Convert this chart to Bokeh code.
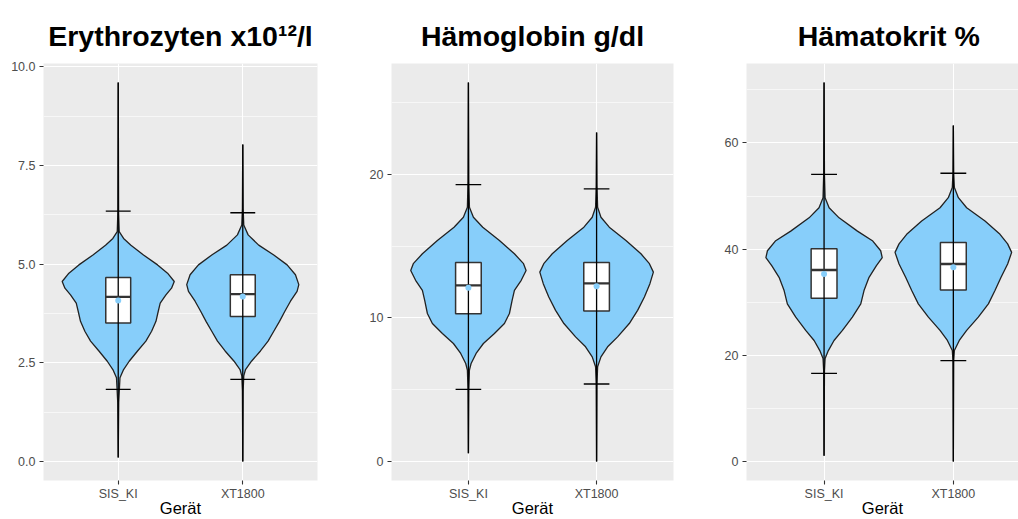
from bokeh.plotting import figure
from bokeh.layouts import row, column
from bokeh.models import FixedTicker, Range1d, NumeralTickFormatter, BasicTickFormatter
from bokeh.core.properties import value
from bokeh.embed import file_html
from bokeh.resources import INLINE

categories = ["SIS_KI", "XT1800"]
x_title = "Gerät"

# ---------------- Erythrozyten x10^12/l ----------------
ery_title = "Erythrozyten x10¹²/l"
ery_min = [0.10, 0.00]
ery_max = [9.60, 8.03]
ery_cap_low = [1.83, 2.08]
ery_cap_high = [6.34, 6.30]
ery_q1 = [3.51, 3.67]
ery_median = [4.17, 4.24]
ery_q3 = [4.66, 4.73]
ery_mean = [4.08, 4.18]
ery_sis_y = [0.10, 1.50, 2.12, 2.33, 2.54, 2.80, 3.05, 3.30, 3.55, 3.80, 4.01, 4.22, 4.39, 4.56, 4.77, 4.98, 5.23, 5.48, 5.65, 5.82, 6.30, 9.60]
ery_sis_w = [0.0, 0.004, 0.014, 0.043, 0.088, 0.155, 0.222, 0.268, 0.303, 0.321, 0.337, 0.383, 0.428, 0.450, 0.396, 0.316, 0.203, 0.102, 0.043, 0.008, 0.003, 0.0]
ery_xt_y = [0.00, 1.80, 2.17, 2.33, 2.54, 2.80, 3.05, 3.30, 3.55, 3.80, 4.06, 4.31, 4.48, 4.73, 4.98, 5.23, 5.48, 5.74, 5.99, 6.40, 8.03]
ery_xt_w = [0.0, 0.003, 0.008, 0.022, 0.070, 0.142, 0.203, 0.249, 0.295, 0.337, 0.383, 0.436, 0.450, 0.423, 0.356, 0.249, 0.128, 0.043, 0.008, 0.003, 0.0]
ery_ticks = [0, 2.5, 5, 7.5, 10]
ery_minor = [1.25, 3.75, 6.25, 8.75]

# ---------------- Hämoglobin g/dl ----------------
hb_title = "Hämoglobin g/dl"
hb_min = [0.58, 0.00]
hb_max = [26.4, 22.92]
hb_cap_low = [5.03, 5.40]
hb_cap_high = [19.28, 18.99]
hb_q1 = [10.30, 10.49]
hb_median = [12.27, 12.41]
hb_q3 = [13.87, 13.87]
hb_mean = [12.11, 12.20]
hb_sis_y = [0.58, 5.0, 6.37, 6.83, 7.53, 8.22, 8.92, 9.61, 10.31, 11.23, 11.92, 12.62, 13.31, 13.78, 14.47, 15.40, 16.32, 17.01, 17.71, 19.5, 26.4]
hb_sis_w = [0.0, 0.003, 0.008, 0.021, 0.060, 0.117, 0.203, 0.281, 0.320, 0.341, 0.359, 0.412, 0.450, 0.430, 0.359, 0.242, 0.112, 0.039, 0.008, 0.003, 0.0]
hb_xt_y = [0.0, 5.4, 6.60, 7.29, 7.99, 8.68, 9.61, 10.53, 11.46, 12.39, 13.19, 13.78, 14.47, 15.40, 16.32, 17.01, 17.71, 19.2, 22.92]
hb_xt_w = [0.0, 0.003, 0.008, 0.034, 0.086, 0.164, 0.255, 0.320, 0.373, 0.416, 0.443, 0.412, 0.346, 0.229, 0.099, 0.034, 0.008, 0.003, 0.0]
hb_ticks = [0, 10, 20]
hb_minor = [5, 15, 25]

# ---------------- Hämatokrit % ----------------
hk_title = "Hämatokrit %"
hk_min = [1.07, 0.00]
hk_max = [71.4, 63.3]
hk_cap_low = [16.6, 19.0]
hk_cap_high = [54.1, 54.3]
hk_q1 = [30.75, 32.3]
hk_median = [36.07, 37.2]
hk_q3 = [40.1, 41.25]
hk_mean = [35.3, 36.6]
hk_sis_y = [1.07, 17.0, 19.4, 20.9, 22.8, 24.7, 27.2, 29.7, 32.2, 34.7, 36.9, 38.4, 39.7, 41.6, 43.4, 45.9, 47.8, 49.7, 54.0, 71.4]
hk_sis_w = [0.0, 0.003, 0.008, 0.033, 0.077, 0.142, 0.219, 0.284, 0.309, 0.348, 0.405, 0.450, 0.438, 0.374, 0.258, 0.116, 0.039, 0.008, 0.003, 0.0]
hk_xt_y = [0.0, 19.0, 20.9, 22.8, 24.7, 27.2, 29.7, 32.2, 34.7, 37.2, 39.4, 41.0, 42.8, 45.3, 47.8, 49.7, 51.6, 54.3, 63.3]
hk_xt_w = [0.0, 0.003, 0.008, 0.046, 0.103, 0.193, 0.271, 0.322, 0.369, 0.420, 0.451, 0.420, 0.361, 0.245, 0.103, 0.039, 0.008, 0.003, 0.0]
hk_ticks = [0, 20, 40, 60]
hk_minor = [10, 30, 50, 70]

VIOLIN_FILL = "#87CEFA"
FONT = "Liberation Sans"
TITLE_H = 55
PLOT_H = 464
TOP = 8
BOTTOM = 39


def make_panel(title, mins, maxs, cap_low, cap_high, q1, med, q3, mean,
               violins, yticks, yminor, yrange, xend, width, bl, br, fmt):
    xr = Range1d(0.4, xend)

    # --- title strip (same frame geometry as the panel below) ---
    t = figure(width=width, height=TITLE_H, output_backend="svg", toolbar_location=None,
               x_range=xr, y_range=Range1d(TITLE_H, 0),
               x_axis_type=None, y_axis_type=None,
               min_border_left=bl, min_border_right=br, min_border_top=0, min_border_bottom=0)
    t.outline_line_color = None
    t.background_fill_color = "white"
    t.border_fill_color = "white"
    t.xgrid.visible = False
    t.ygrid.visible = False
    t.text(x=[1.5], y=[35.5], text=[title], text_align="center", text_baseline="alphabetic",
           text_font=value(FONT), text_font_size="28.5px", text_font_style="bold",
           text_color="black")

    # --- main panel ---
    p = figure(width=width, height=PLOT_H, output_backend="svg", toolbar_location=None,
               x_range=xr, y_range=Range1d(*yrange),
               min_border_left=bl, min_border_right=br, min_border_top=TOP,
               min_border_bottom=BOTTOM)
    p.background_fill_color = "#EBEBEB"
    p.border_fill_color = "white"
    p.outline_line_color = None

    pos = [i + 1 for i in range(len(categories))]

    for i, (vy, vw) in enumerate(violins):
        xs = [pos[i] + w for w in vw] + [pos[i] - w for w in reversed(vw)]
        ys = list(vy) + list(reversed(vy))
        p.patch(xs, ys, fill_color=VIOLIN_FILL, line_color="#222222", line_width=1.3)

    left = [x - 0.1 for x in pos]
    right = [x + 0.1 for x in pos]
    p.quad(left=left, right=right, bottom=q1, top=q3, fill_color="white",
           line_color="#333333", line_width=1.5)
    p.segment(x0=pos, y0=mins, x1=pos, y1=maxs, line_color="black", line_width=1.3)
    p.segment(x0=left, y0=med, x1=right, y1=med, line_color="#333333", line_width=2.4)
    p.segment(x0=left, y0=cap_low, x1=right, y1=cap_low, line_color="black", line_width=1.3)
    p.segment(x0=left, y0=cap_high, x1=right, y1=cap_high, line_color="black", line_width=1.3)
    p.scatter(x=pos, y=mean, size=6, fill_color=VIOLIN_FILL, line_color=None)

    p.xgrid.ticker = FixedTicker(ticks=pos)
    p.xgrid.grid_line_color = "white"
    p.xgrid.grid_line_width = 1.1
    p.ygrid.ticker = FixedTicker(ticks=yticks, minor_ticks=yminor)
    p.ygrid.grid_line_color = "white"
    p.ygrid.grid_line_width = 1.1
    p.ygrid.minor_grid_line_color = "white"
    p.ygrid.minor_grid_line_width = 0.6

    p.yaxis.ticker = FixedTicker(ticks=yticks)
    p.yaxis.formatter = fmt
    p.xaxis.ticker = FixedTicker(ticks=pos)
    p.xaxis.major_label_overrides = {pos[i]: categories[i] for i in range(len(categories))}
    for ax in (p.xaxis[0], p.yaxis[0]):
        ax.axis_line_color = None
        ax.major_tick_line_color = "#333333"
        ax.major_tick_line_width = 1.1
        ax.major_tick_out = 4
        ax.major_tick_in = 0
        ax.minor_tick_line_color = None
        ax.major_label_text_font = FONT
        ax.major_label_text_font_size = "12.5px"
        ax.major_label_text_color = "#4D4D4D"
    p.yaxis.major_label_standoff = 4
    p.xaxis.major_label_standoff = 2
    p.xaxis.axis_label = x_title
    p.xaxis.axis_label_text_font = FONT
    p.xaxis.axis_label_text_font_size = "16.5px"
    p.xaxis.axis_label_text_font_style = "normal"
    p.xaxis.axis_label_text_color = "black"
    p.xaxis.axis_label_standoff = -5
    return column(t, p, spacing=0)


c1 = make_panel(ery_title, ery_min, ery_max, ery_cap_low, ery_cap_high, ery_q1, ery_median,
                ery_q3, ery_mean, [(ery_sis_y, ery_sis_w), (ery_xt_y, ery_xt_w)],
                ery_ticks, ery_minor, (-0.48, 10.08), 2.6, 348, 43, 31,
                NumeralTickFormatter(format="0.0"))
c2 = make_panel(hb_title, hb_min, hb_max, hb_cap_low, hb_cap_high, hb_q1, hb_median,
                hb_q3, hb_mean, [(hb_sis_y, hb_sis_w), (hb_xt_y, hb_xt_w)],
                hb_ticks, hb_minor, (-1.32, 27.72), 2.6, 352, 43, 27,
                BasicTickFormatter())
c3 = make_panel(hk_title, hk_min, hk_max, hk_cap_low, hk_cap_high, hk_q1, hk_median,
                hk_q3, hk_mean, [(hk_sis_y, hk_sis_w), (hk_xt_y, hk_xt_w)],
                hk_ticks, hk_minor, (-3.57, 74.97), 2.504, 318, 46, 0,
                BasicTickFormatter())

layout = row(c1, c2, c3, spacing=0)
open("out.html", "w").write(file_html(layout, INLINE))
